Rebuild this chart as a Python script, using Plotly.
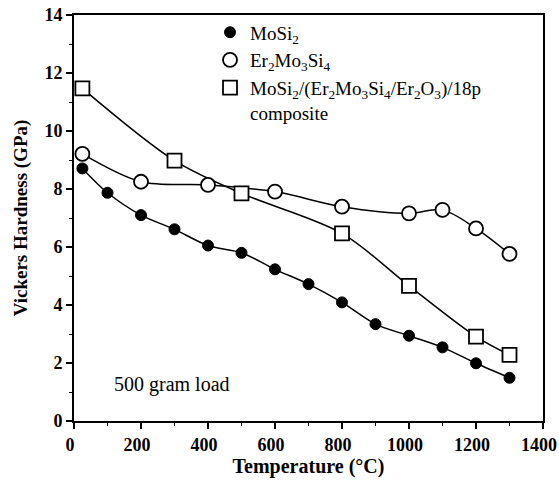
import plotly.graph_objects as go

temp_mosi2 = [25, 100, 200, 300, 400, 500, 600, 700, 800, 900, 1000, 1100, 1200, 1300]
hv_mosi2 = [8.71, 7.87, 7.10, 6.61, 6.05, 5.80, 5.23, 4.72, 4.09, 3.34, 2.94, 2.54, 1.99, 1.49]

temp_er = [25, 200, 400, 600, 800, 1000, 1100, 1200, 1300]
hv_er = [9.21, 8.25, 8.14, 7.91, 7.39, 7.16, 7.28, 6.64, 5.76]

temp_comp = [25, 300, 500, 800, 1000, 1200, 1300]
hv_comp = [11.47, 8.98, 7.85, 6.47, 4.66, 2.91, 2.28]

names = [
    "MoSi<sub>2</sub>",
    "Er<sub>2</sub>Mo<sub>3</sub>Si<sub>4</sub>",
    "MoSi<sub>2</sub>/(Er<sub>2</sub>Mo<sub>3</sub>Si<sub>4</sub>/Er<sub>2</sub>O<sub>3</sub>)/18p<br>composite",
]

font_serif = "Liberation Serif, Times New Roman, DejaVu Serif, serif"

fig = go.Figure()

series = [
    (temp_mosi2, hv_mosi2, dict(symbol="circle", size=11, color="black", line=dict(color="black", width=1))),
    (temp_er, hv_er, dict(symbol="circle-open", size=14, color="black", line=dict(color="black", width=1.8))),
    (temp_comp, hv_comp, dict(symbol="square-open", size=14, color="black", line=dict(color="black", width=1.8))),
]

for (x, y, mk), nm in zip(series, names):
    fig.add_trace(go.Scatter(
        x=x, y=y, mode="lines", line=dict(color="black", width=1.5, shape="spline", smoothing=0.9),
        showlegend=False, hoverinfo="skip"))
for (x, y, mk), nm in zip(series, names):
    mk2 = dict(mk)
    if "open" in mk["symbol"]:
        mk2["symbol"] = mk["symbol"].replace("-open", "")
        mk2["color"] = "white"
    fig.add_trace(go.Scatter(x=x, y=y, mode="markers", marker=mk2, showlegend=False))
for (x, y, mk), nm in zip(series, names):
    fig.add_trace(go.Scatter(x=[None], y=[None], mode="markers", marker=mk, name=nm))

fig.add_annotation(x=112, y=1.25, xref="x", yref="y", text="500 gram load", showarrow=False,
                   xanchor="left", yanchor="middle", font=dict(family=font_serif, size=20, color="black"))

axis_common = dict(
    showgrid=False, zeroline=False, showline=True, linecolor="black", linewidth=2, mirror=True,
    ticks="outside", ticklen=6, tickwidth=1.5, tickcolor="black",
    tickfont=dict(family=font_serif, size=18, color="black", weight="bold"),
    minor=dict(ticks="outside", ticklen=3, tickwidth=1, tickcolor="black"),
    ticklabeloverflow="allow", automargin=False,
)

fig.update_xaxes(range=[0, 1400], dtick=200, minor_dtick=100, ticklabelshift=-4,
                 title=dict(text="<b>Temperature (°C)</b>", font=dict(family=font_serif, size=20, color="black"), standoff=4),
                 **axis_common)
fig.update_yaxes(range=[0, 14], dtick=2, minor_dtick=1,
                 title=dict(text="<b>Vickers Hardness (GPa)</b>", font=dict(family=font_serif, size=19, color="black"), standoff=12),
                 **axis_common)

fig.update_layout(
    width=559, height=484,
    margin=dict(l=74, r=16, t=15, b=63),
    plot_bgcolor="white", paper_bgcolor="white",
    legend=dict(x=0.29, y=1.004, xanchor="left", yanchor="top", bgcolor="rgba(0,0,0,0)", valign="top",
                font=dict(family=font_serif, size=19, color="black"), itemwidth=30, tracegroupgap=0),
)

fig.write_html("out.html")
